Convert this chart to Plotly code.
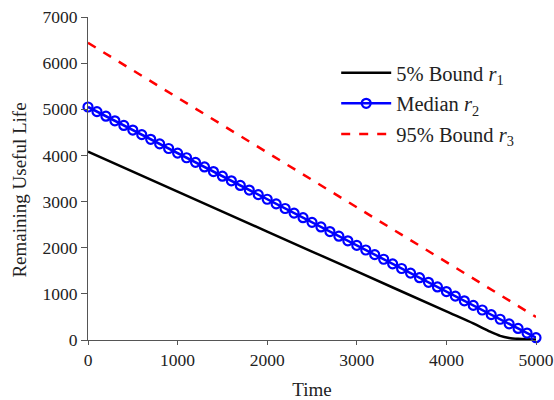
import plotly.graph_objects as go

time_med = [0, 100, 200, 300, 400, 500, 600, 700, 800, 900, 1000, 1100, 1200, 1300, 1400, 1500, 1600, 1700, 1800, 1900,
            2000, 2100, 2200, 2300, 2400, 2500, 2600, 2700, 2800, 2900, 3000, 3100, 3200, 3300, 3400, 3500, 3600, 3700,
            3800, 3900, 4000, 4100, 4200, 4300, 4400, 4500, 4600, 4700, 4800, 4900, 5000]
median = [5050, 4950, 4850, 4750, 4650, 4550, 4450, 4350, 4250, 4150, 4050, 3950, 3850, 3750, 3650, 3550, 3450, 3350,
          3250, 3150, 3050, 2950, 2850, 2750, 2650, 2550, 2450, 2350, 2250, 2150, 2050, 1950, 1850, 1750, 1650, 1550,
          1450, 1350, 1250, 1150, 1050, 950, 850, 750, 650, 550, 450, 350, 250, 150, 50]

time_low = [0, 1000, 2000, 3000, 4000, 4300, 4400, 4500, 4600, 4700, 4800, 4900, 5000]
bound5 = [4080, 3215, 2350, 1485, 620, 360, 265, 170, 90, 45, 25, 15, 10]

time_high = [0, 5000]
bound95 = [6440, 500]

x_ticks = [0, 1000, 2000, 3000, 4000, 5000]
y_ticks = [0, 1000, 2000, 3000, 4000, 5000, 6000, 7000]

font = "Liberation Serif, Times New Roman, serif"

fig = go.Figure()
fig.add_trace(go.Scatter(x=time_low, y=bound5, mode="lines", name="5% Bound <i>r</i><sub>1</sub>",
                         legendgroup="a", line=dict(color="black", width=2.5, shape="spline", smoothing=0.8)))
fig.add_trace(go.Scatter(x=time_med, y=median, mode="lines+markers", name="Median <i>r</i><sub>2</sub>",
                         legendgroup="b", line=dict(color="blue", width=2.5),
                         marker=dict(symbol="circle-open", size=9, color="blue", line=dict(width=2.2))))
fig.add_trace(go.Scatter(x=time_high, y=bound95, mode="lines", name="95% Bound <i>r</i><sub>3</sub>",
                         legendgroup="c", line=dict(color="red", width=2.5, dash="dash")))

fig.update_layout(
    width=554, height=400,
    margin=dict(l=88, r=18, t=17, b=60),
    plot_bgcolor="white", paper_bgcolor="white",
    font=dict(family=font, size=17.5, color="#222"),
    legend=dict(x=0.554, y=0.889, xanchor="left", yanchor="top", bgcolor="rgba(0,0,0,0)",
                font=dict(size=20.5), itemwidth=50, tracegroupgap=1),
    xaxis=dict(range=[0, 5000], tickvals=x_ticks, showline=True, linecolor="#555",
               linewidth=1.2, ticks="outside", ticklen=4, tickcolor="#555", showgrid=False, zeroline=False,
               automargin=False, ticklabeloverflow="allow",
               title=dict(text="Time", standoff=15, font=dict(size=19)), tickfont=dict(size=17.5)),
    yaxis=dict(range=[0, 7000], tickvals=y_ticks, showline=True,
               linecolor="#555", linewidth=1.2, ticks="outside", ticklen=6, tickcolor="#555", showgrid=False,
               zeroline=False, automargin=False, ticklabeloverflow="allow", tickfont=dict(size=17.5)),
    annotations=[dict(text="Remaining Useful Life", textangle=-90, xref="paper", yref="paper",
                      x=-0.153, y=0.464, xanchor="center", yanchor="middle", showarrow=False,
                      font=dict(size=19))],
)
fig.update_traces(cliponaxis=False)
fig.write_html("out.html", config={"displayModeBar": False},
               post_script="document.body.style.margin='0';document.body.style.overflow='hidden';")
